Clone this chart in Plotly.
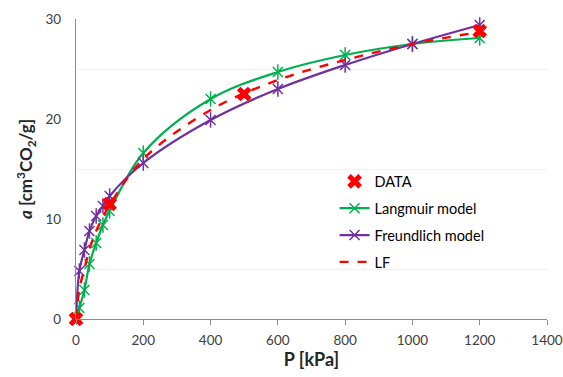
import plotly.graph_objects as go

# Data
p_data = [0, 100, 500, 1200]
a_data = [0, 11.5, 22.5, 28.8]

p_model = [0, 10, 25, 40, 60, 80, 100, 200, 400, 600, 800, 1000, 1200]
a_langmuir = [0, 1.1, 2.9, 5.5, 7.6, 9.4, 10.8, 16.6, 22.0, 24.7, 26.4, 27.5, 28.1]
a_freundlich = [0, 4.8, 6.9, 8.8, 10.3, 11.3, 12.3, 15.6, 19.9, 23.0, 25.4, 27.5, 29.4]
a_lf = [0, 3.0, 5.0, 7.0, 8.8, 10.2, 11.4, 16.0, 20.9, 23.9, 25.9, 27.5, 28.7]

x_ticks = [0, 200, 400, 600, 800, 1000, 1200, 1400]
y_ticks = [0, 10, 20, 30]

GREEN = "#00B050"
PURPLE = "#7030A0"
RED = "#FF0000"
FONT = "Lato"

fig = go.Figure()


def model_trace(x, y, name, color, group, rank):
    # line + "x" part of the star marker
    fig.add_trace(go.Scatter(
        x=x, y=y, mode="lines+markers", name=name, legendgroup=group, legendrank=rank,
        line=dict(color=color, width=2.2, shape="spline"),
        marker=dict(symbol="x-thin-open", size=10, color=color, line=dict(width=1.5, color=color)),
        cliponaxis=False,
    ))
    # vertical bar of the star marker
    fig.add_trace(go.Scatter(
        x=x[1:], y=y[1:], mode="markers", showlegend=False, legendgroup=group, hoverinfo="skip",
        marker=dict(symbol="line-ns-open", size=11, color=color, line=dict(width=1.5, color=color)),
        cliponaxis=False,
    ))


model_trace(p_model, a_langmuir, "Langmuir model", GREEN, "2", 2)
model_trace(p_model, a_freundlich, "Freundlich model", PURPLE, "3", 3)

fig.add_trace(go.Scatter(
    x=p_model, y=a_lf, mode="lines", name="LF", legendgroup="4", legendrank=4,
    line=dict(color=RED, width=2.4, dash="dash", shape="spline"),
))
fig.add_trace(go.Scatter(
    x=p_data, y=a_data, mode="markers", name="DATA", legendgroup="1", legendrank=1,
    marker=dict(symbol="x", size=13, color=RED, line=dict(width=0)),
    cliponaxis=False,
))

fig.update_layout(
    width=563, height=377,
    margin=dict(l=76, r=16, t=19, b=58),
    paper_bgcolor="white", plot_bgcolor="white",
    font=dict(family=FONT, size=13, color="#404040"),
    showlegend=True,
    legend=dict(
        x=0.549, y=0.512, xanchor="left", yanchor="top",
        bgcolor="rgba(255,255,255,0)", font=dict(size=14.5, color="#000000"),
        traceorder="grouped", tracegroupgap=5, itemwidth=30,
    ),
    xaxis=dict(
        range=[0, 1400], tickvals=x_ticks, ticktext=[str(v) for v in x_ticks],
        showline=True, linecolor="#8c8c8c", linewidth=1.2,
        ticks="outside", ticklen=5, tickcolor="#8c8c8c",
        showgrid=False, zeroline=False, automargin=False,
        ticklabelstandoff=4,
        tickfont=dict(size=13.5, color="#404040"),
        title=dict(text="<b>P [kPa]</b>", font=dict(size=18, color="#262626"), standoff=5),
    ),
    yaxis=dict(
        range=[0, 30], tickvals=y_ticks, ticktext=[str(v) for v in y_ticks],
        showline=True, linecolor="#8c8c8c", linewidth=1.2,
        ticks="", showgrid=False, zeroline=False, automargin=False,
        minor=dict(tickvals=[5, 15, 25], showgrid=True, gridcolor="#f2f2f2", gridwidth=1),
        ticklabelstandoff=11,
        tickfont=dict(size=13.5, color="#404040"),
        title=dict(text="<b><i>a</i> [cm<sup>3</sup>CO<sub>2</sub>/g]</b>",
                   font=dict(size=17, color="#262626"), standoff=8),
    ),
)

fig.write_html(
    "out.html",
    config={"displayModeBar": False},
    post_script="document.body.style.margin='0';document.body.style.overflow='hidden';",
)
